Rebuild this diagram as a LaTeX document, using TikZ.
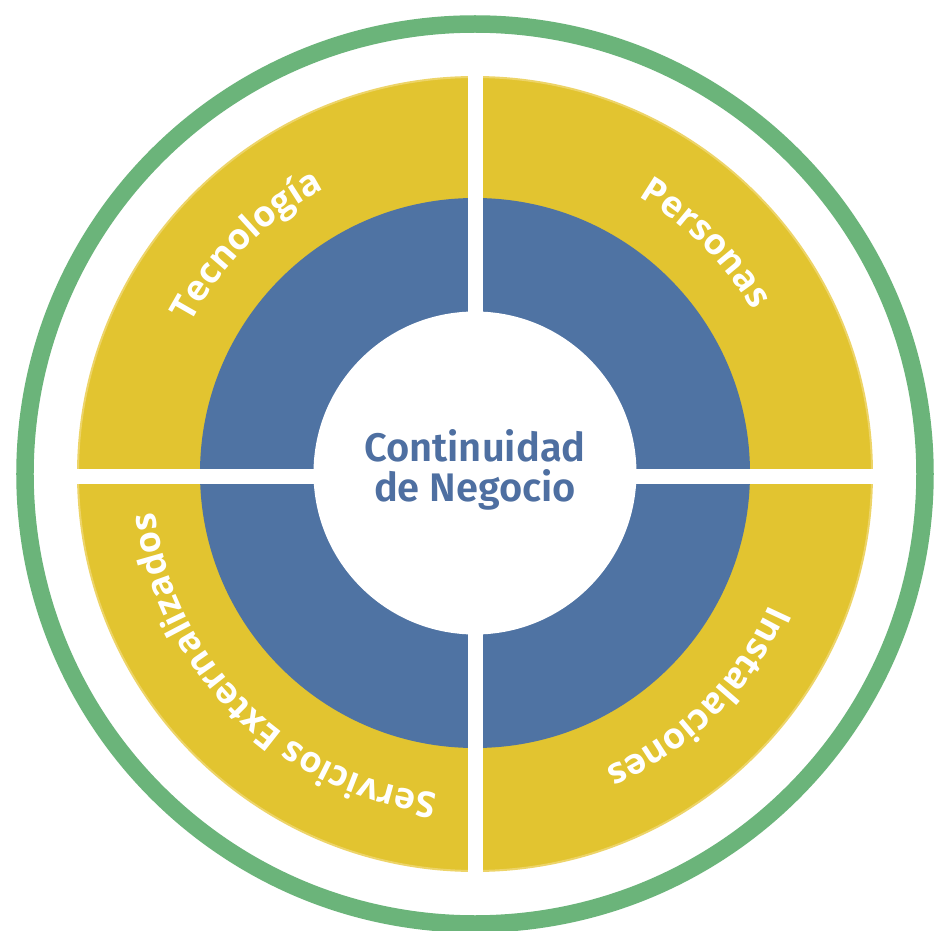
\documentclass[tikz,border=0pt]{standalone}
\usepackage{fontspec}
\usetikzlibrary{decorations.text}
\newfontfamily\ringfont{Open Sans}
\newfontfamily\centerfont{Fira Sans SemiBold}
\definecolor{ringgreen}{HTML}{6BB47A}
\definecolor{ringyellow}{HTML}{E2C430}
\definecolor{rimyellow}{HTML}{EDD468}
\definecolor{ringblue}{HTML}{4F73A3}
\definecolor{coretext}{HTML}{4E6FA1}
\tikzset{
  ringlabel/.style={decorate, decoration={text along path, text align=center, text color=white,
    text={|\ringfont\bfseries\fontsize{36}{36}\selectfont|#1}}}
}
\begin{document}
\begin{tikzpicture}[x=1bp,y=1bp]
\useasboundingbox (-475,-457) rectangle (459,474);
\fill[white] (-475,-457) rectangle (459,474);
% outer green ring
\draw[ringgreen, line width=17.5bp] (0,0) circle[radius=450];
% yellow disc
\fill[ringyellow, draw=rimyellow, line width=2bp] (0,0) circle[radius=397];
% blue ring
\fill[ringblue] (0,1) circle[radius=275];
% white core
\fill[white] (0,1) circle[radius=161.5];
% quadrant gaps
\fill[white] (-7.5,-405) rectangle (7.5,405);
\fill[white] (-405,-10) rectangle (405,5);
% curved labels
\path[ringlabel={Tecnología}] (195:322) arc[start angle=195, end angle=75, radius=322];
\path[ringlabel={Personas}] (105:322) arc[start angle=105, end angle=-15, radius=322];
\path[ringlabel={Instalaciones}] (15:322) arc[start angle=15, end angle=-105, radius=322];
\path[ringlabel={Servicios Externalizados}] (-55:322) arc[start angle=-55, end angle=-215, radius=322];
% centre text
\node[font=\centerfont\fontsize{40}{40}\selectfont, text=coretext, align=center] (core) at (0,4) {Continuidad\\de Negocio};
\end{tikzpicture}
\end{document}
